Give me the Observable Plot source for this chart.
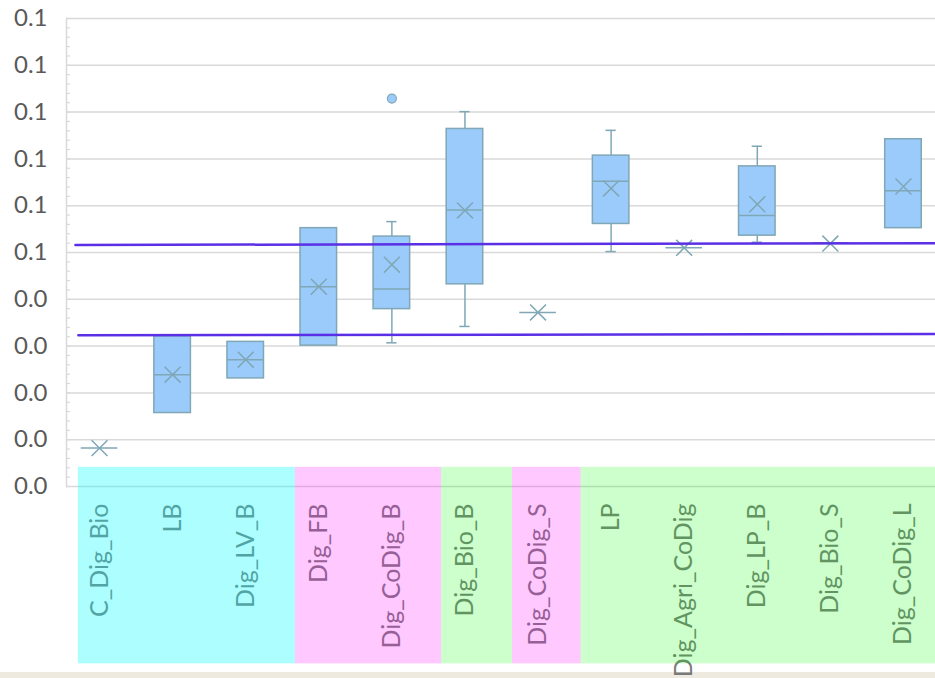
<!DOCTYPE html>
<html>
<head>
<meta charset="utf-8">
<script src="https://cdn.jsdelivr.net/npm/d3@7"></script>
<script src="https://cdn.jsdelivr.net/npm/@observablehq/plot@0.6"></script>
<style>
  html, body { margin: 0; padding: 0; background: #EEEADF; width: 935px; height: 678px; overflow: hidden; }
  #chart svg { display: block; overflow: visible; }
</style>
</head>
<body>
<div id="chart"></div>
<script>
// ---- data ----
const categories = ["C_Dig_Bio","LB","Dig_LV_B","Dig_FB","Dig_CoDig_B","Dig_Bio_B","Dig_CoDig_S","LP","Dig_Agri_CoDig","Dig_LP_B","Dig_Bio_S","Dig_CoDig_L"];
const mins    = [0.0082, 0.0157, 0.0231, 0.0301, 0.0307, 0.0342, 0.0372, 0.0502, 0.0510, 0.0522, 0.0521, 0.0552];
const q1s     = [0.0082, 0.0157, 0.0231, 0.0301, 0.0379, 0.0432, 0.0372, 0.0561, 0.0510, 0.0536, 0.0521, 0.0552];
const medians = [0.0082, 0.0239, 0.0271, 0.0427, 0.0422, 0.0591, 0.0372, 0.0652, 0.0510, 0.0579, 0.0521, 0.0632];
const q3s     = [0.0082, 0.0321, 0.0309, 0.0552, 0.0534, 0.0764, 0.0372, 0.0707, 0.0510, 0.0684, 0.0521, 0.0742];
const maxs    = [0.0082, 0.0321, 0.0309, 0.0552, 0.0566, 0.0801, 0.0372, 0.0761, 0.0510, 0.0727, 0.0521, 0.0742];
const means   = [0.0082, 0.0239, 0.0271, 0.0427, 0.0474, 0.0590, 0.0372, 0.0637, 0.0510, 0.0603, 0.0519, 0.0641];
const outlierCategory = ["Dig_CoDig_B"];
const outlierValue = [0.0829];

const yTicks = d3.range(0, 0.1001, 0.01);
const yMinorTicks = d3.range(0, 0.1001, 0.002);

// threshold lines (hand-drawn in the original, slightly sloped): [start, end] in category-index units
const upperLineX = [-0.33, 11.5];
const upperLineY = [0.0516, 0.0520];
const lowerLineX = [-0.29, 11.5];
const lowerLineY = [0.0323, 0.0326];

// coloured group bands over the category labels
const groupStart = [-0.29, 2.68, 4.68, 5.65, 6.59];
const groupEnd   = [2.68, 4.68, 5.65, 6.59, 11.6];
const groupColor = ["#00FFFF", "#FF00FF", "#00FF00", "#FF00FF", "#00FF00"];
const groupOpacity = [0.32, 0.21, 0.2, 0.21, 0.2];
const groupTop = 0.0041, groupBottom = -0.0379;

// ---- build tables ----
const stats = categories.map((c, i) => ({
  i, c, min: mins[i], q1: q1s[i], med: medians[i], q3: q3s[i], max: maxs[i], mean: means[i]
}));
const outliers = outlierCategory.map((c, k) => ({ i: categories.indexOf(c), v: outlierValue[k] }));
const groups = groupStart.map((s, k) => ({ x1: s, x2: groupEnd[k], fill: groupColor[k], op: groupOpacity[k] }));
const upperLine = upperLineX.map((x, k) => ({ x, y: upperLineY[k] }));
const lowerLine = lowerLineX.map((x, k) => ({ x, y: lowerLineY[k] }));

const boxFill = "#9BCBFB";
const boxStroke = "#7FA7B5";
const half = 0.25, cap = 0.07;
const W = 935, H = 672, mTop = 18, frameBottom = 486, mLeft = 66;

const chart = Plot.plot({
  width: W,
  height: H,
  marginTop: mTop,
  marginBottom: H - frameBottom,
  marginLeft: mLeft,
  marginRight: 0,
  style: { fontFamily: "Lato, 'Open Sans', sans-serif", background: "white", overflow: "visible" },
  x: { type: "linear", domain: [-0.5, 11.5], range: [62.5, 939.5] },
  y: { domain: [0, 0.1] },
  marks: [
    Plot.ruleY(yTicks, { stroke: "#D9D9D9", strokeWidth: 1.5 }),
    Plot.frame({ anchor: "left", stroke: "#D9D9D9", strokeWidth: 1.5 }),
    Plot.tickY(yMinorTicks, { stroke: "#D9D9D9", strokeWidth: 1.2, insetRight: W - mLeft - 4 }),
    Plot.axisY({ ticks: yTicks, tickFormat: ".1f", tickSize: 0, tickPadding: 19, fontSize: 24, fill: "#595959", label: null }),
    Plot.axisX({ ticks: d3.range(categories.length), tickFormat: i => categories[i], tickSize: 0, tickPadding: 17,
      tickRotate: -90, fontSize: 25, fill: "#7A7A7A", label: null }),
    // whiskers
    Plot.ruleX(stats.filter(d => d.max > d.q3), { x: "i", y1: "q3", y2: "max", stroke: boxStroke, strokeWidth: 1.5 }),
    Plot.ruleX(stats.filter(d => d.min < d.q1), { x: "i", y1: "min", y2: "q1", stroke: boxStroke, strokeWidth: 1.5 }),
    Plot.ruleY(stats.filter(d => d.max > d.q3), { y: "max", x1: d => d.i - cap, x2: d => d.i + cap, stroke: boxStroke, strokeWidth: 1.5 }),
    Plot.ruleY(stats.filter(d => d.min < d.q1), { y: "min", x1: d => d.i - cap, x2: d => d.i + cap, stroke: boxStroke, strokeWidth: 1.5 }),
    // boxes
    Plot.rect(stats.filter(d => d.q3 > d.q1), { x1: d => d.i - half, x2: d => d.i + half, y1: "q1", y2: "q3",
      fill: boxFill, stroke: boxStroke, strokeWidth: 1.5 }),
    // medians
    Plot.ruleY(stats, { y: "med", x1: d => d.i - half, x2: d => d.i + half, stroke: boxStroke, strokeWidth: 1.5 }),
    // means
    Plot.dot(stats, { x: "i", y: "mean", symbol: "times", r: 7.3, stroke: boxStroke, strokeWidth: 1.5 }),
    // outliers
    Plot.dot(outliers, { x: "i", y: "v", r: 4.5, fill: boxFill, stroke: boxStroke, strokeWidth: 1.2 }),
    // threshold lines
    Plot.line(upperLine, { x: "x", y: "y", stroke: "#5A2FE6", strokeWidth: 2.5 }),
    Plot.line(lowerLine, { x: "x", y: "y", stroke: "#5A2FE6", strokeWidth: 2.5 }),
    // coloured group bands (semi-transparent, over the labels)
    Plot.rect(groups, { x1: "x1", x2: "x2", y1: groupBottom, y2: groupTop, fill: "fill", fillOpacity: "op" })
  ]
});
document.getElementById("chart").appendChild(chart);
</script>
</body>
</html>
